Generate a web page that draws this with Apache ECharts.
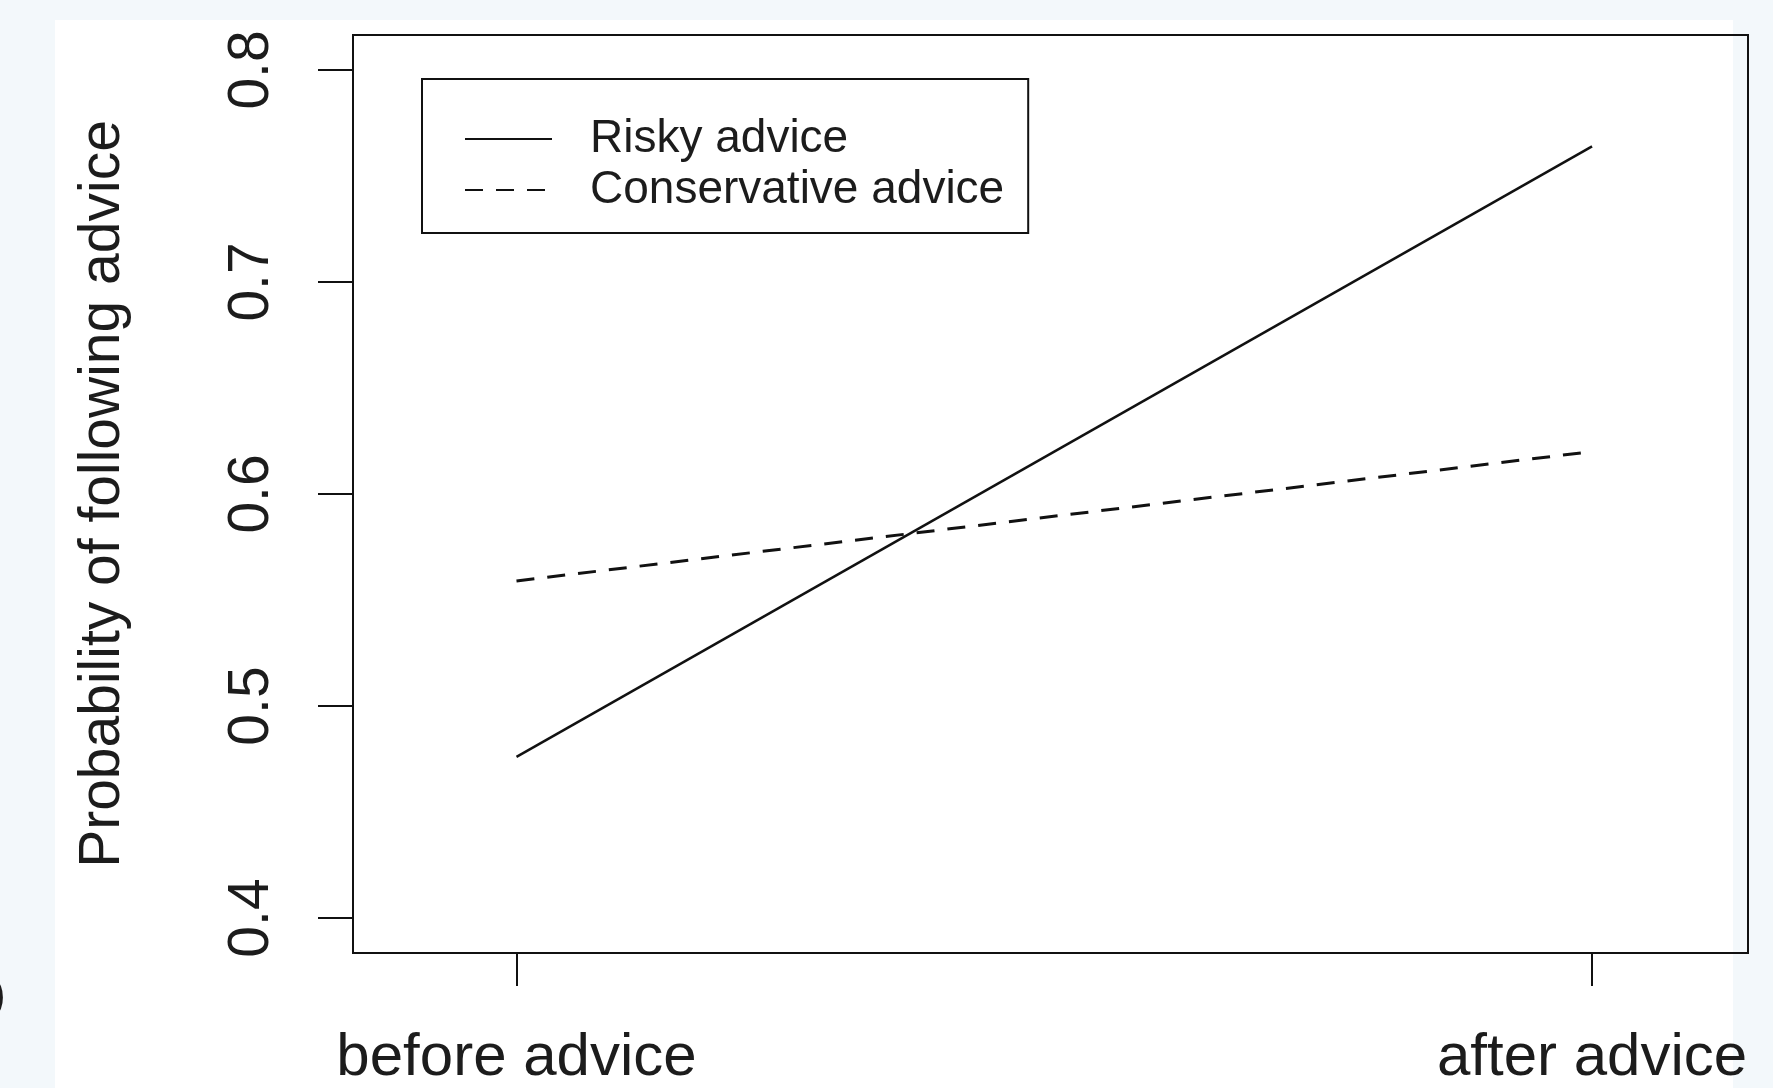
<!DOCTYPE html>
<html>
<head>
<meta charset="utf-8">
<script src="https://cdn.jsdelivr.net/npm/echarts@6/dist/echarts.min.js"></script>
<style>
  html, body { margin: 0; padding: 0; background: #f3f8fb; }
  #paper { position: absolute; left: 55px; top: 20px; width: 1678px; height: 1068px; background: #fff; }
  #chart { position: absolute; left: 0; top: 0; width: 1773px; height: 1088px; }
</style>
</head>
<body>
<div id="paper"></div>
<div id="chart"></div>
<script>
// 数据
const stages = ['before advice', 'after advice']
const stagePos = [1, 2]
const risky = [0.476, 0.764]
const conservative = [0.559, 0.62]
const yTicks = [0.4, 0.5, 0.6, 0.7, 0.8]
const seriesNames = ['Risky advice', 'Conservative advice']

const FONT = '"Liberation Sans", Arial, sans-serif'
const INK = '#1c1c1c'

const chart = echarts.init(document.getElementById('chart'))

const toPairs = (vals) => vals.map((v, i) => [stagePos[i], v])

const option = {
  backgroundColor: 'transparent',
  animation: false,
  color: ['#111', '#111'],
  grid: {
    left: 353, top: 35, right: 25, bottom: 134,
    show: true, borderColor: '#111', borderWidth: 2, backgroundColor: 'transparent'
  },
  legend: {
    orient: 'vertical',
    left: 422, top: 79,
    data: seriesNames,
    itemWidth: 87, itemHeight: 44, itemGap: 5,
    padding: [37, 24, 20, 42],
    borderColor: '#111', borderWidth: 2,
    itemStyle: { color: 'transparent', borderWidth: 0, opacity: 0 },
    textStyle: { fontFamily: FONT, fontSize: 46, color: INK, padding: [0, 0, 0, 33] }
  },
  xAxis: {
    type: 'value',
    min: 0.848, max: 2.145,
    splitLine: { show: false },
    axisLine: { show: false },
    axisTick: { show: true, length: 33, customValues: stagePos, lineStyle: { color: '#111', width: 2 } },
    axisLabel: {
      customValues: stagePos,
      margin: 75,
      fontFamily: FONT, fontSize: 60, color: INK,
      formatter: (v) => stages[stagePos.indexOf(v)] ?? ''
    }
  },
  yAxis: {
    type: 'value',
    min: 0.3835, max: 0.8165,
    name: 'Probability of following advice',
    nameLocation: 'middle',
    nameGap: 221,
    nameRotate: 90,
    nameTextStyle: { fontFamily: FONT, fontSize: 57, color: INK },
    splitLine: { show: false },
    axisLine: { show: false },
    axisTick: { show: true, length: 35, customValues: yTicks, lineStyle: { color: '#111', width: 2 } },
    axisLabel: {
      customValues: yTicks,
      rotate: 90,
      margin: 72,
      fontFamily: FONT, fontSize: 57, color: INK,
      formatter: (v) => v.toFixed(1)
    }
  },
  graphic: [
    { type: 'text', left: -9, top: 975, style: { text: ')', font: '44px ' + FONT, fill: INK } }
  ],
  series: [
    {
      name: seriesNames[0],
      type: 'line',
      data: toPairs(risky),
      symbol: 'none',
      itemStyle: { color: '#111' },
      lineStyle: { color: '#111', width: 2.5, type: 'solid' }
    },
    {
      name: seriesNames[1],
      type: 'line',
      data: toPairs(conservative),
      symbol: 'none',
      itemStyle: { color: '#111' },
      lineStyle: { color: '#111', width: 3, type: [18, 13] }
    }
  ]
}

chart.setOption(option)
</script>
</body>
</html>
